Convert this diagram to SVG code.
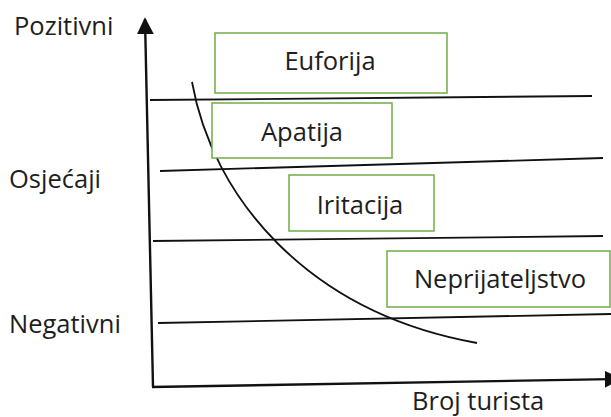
<svg xmlns="http://www.w3.org/2000/svg" width="611" height="417" viewBox="0 0 611 417">
<defs>
<style>
.ax{stroke:#111;stroke-width:2.4;fill:none}
.ln{stroke:#111;stroke-width:1.8;fill:none}
.bx{fill:#fff;stroke:#70AD47;stroke-width:1.5}
.t{font-family:"Open Sans","Liberation Sans",sans-serif;font-size:25.5px;fill:#1e1e1e}
.c{text-anchor:middle}
</style>
<marker id="ah" viewBox="0 0 10 10" refX="9" refY="5" markerWidth="17" markerHeight="17" markerUnits="userSpaceOnUse" orient="auto"><path d="M0,0 L10,5 L0,10 z" fill="#111"/></marker>
</defs>
<g id="connectors">
<line class="ax" x1="153" y1="387" x2="145" y2="19" marker-end="url(#ah)"/>
<line class="ax" x1="152" y1="387" x2="620" y2="379" marker-end="url(#ah)"/>
<line class="ln" x1="150" y1="100" x2="592" y2="96"/>
<line class="ln" x1="160" y1="171" x2="603" y2="158"/>
<line class="ln" x1="153" y1="241" x2="603" y2="236"/>
<line class="ln" x1="158" y1="323" x2="611" y2="314"/>
<path class="ln" d="M192,82 C212,195 305,312 477,343"/>
</g>
<g id="labels">
<text class="t" x="14" y="35">Pozitivni</text>
<text class="t" x="9" y="188">Osjećaji</text>
<text class="t" x="9" y="333">Negativni</text>
<text class="t" x="412" y="410">Broj turista</text>
</g>
<g id="euforija"><rect class="bx" x="215" y="33" width="232" height="60"/><text class="t c" x="330" y="70">Euforija</text></g>
<g id="apatija"><rect class="bx" x="212" y="103" width="180" height="55"/><text class="t c" x="302" y="141">Apatija</text></g>
<g id="iritacija"><rect class="bx" x="289" y="175" width="145" height="56"/><text class="t c" x="360" y="214">Iritacija</text></g>
<g id="neprijateljstvo"><rect class="bx" x="387" y="251" width="223" height="56"/><text class="t c" x="500" y="288">Neprijateljstvo</text></g>
</svg>
